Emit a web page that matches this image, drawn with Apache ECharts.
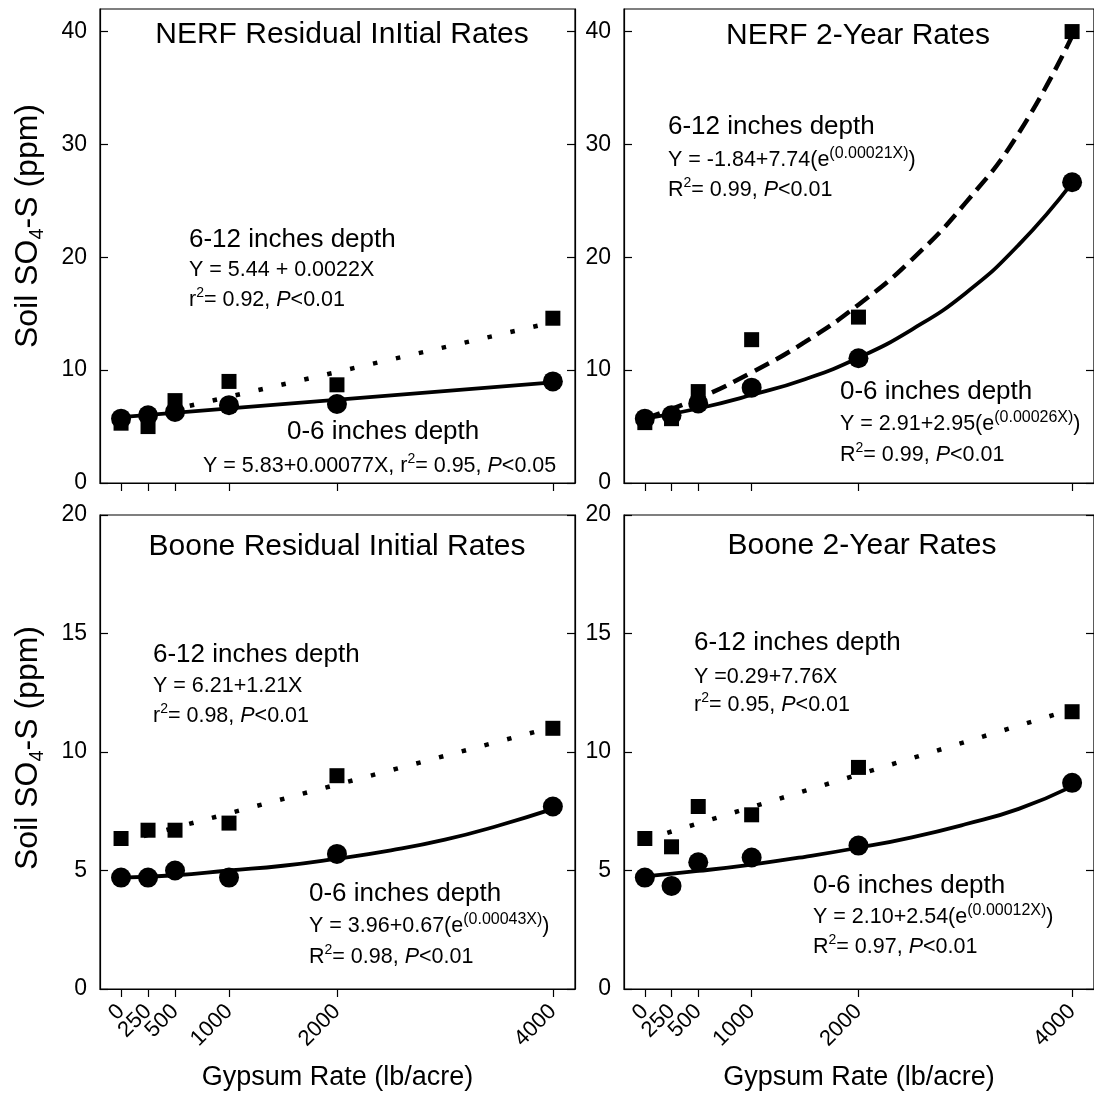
<!DOCTYPE html>
<html>
<head>
<meta charset="utf-8">
<title>Soil SO4-S by gypsum rate</title>
<script src="https://cdn.jsdelivr.net/npm/echarts@6/dist/echarts.min.js"></script>
<style>
  html, body { margin: 0; padding: 0; background: #fff; }
  #chart { width: 1094px; height: 1099px; }
</style>
</head>
<body>
<div id="chart"></div>
<script>
// gypsum rates (lb/acre), also the x tick labels
const rates = [0, 250, 500, 1000, 2000, 4000];
const lineX = [0, 4000];
const curveX = [0, 500, 1000, 1500, 2000, 2500, 3000, 3500, 4000];

// y tick labels
const ticksNerf = [0, 10, 20, 30, 40];
const ticksBoone = [0, 5, 10, 15, 20];

// NERF residual initial rates
const nerfInitShallow = [5.7, 6.0, 6.3, 6.9, 7.0, 9.0];   // 0-6 in
const nerfInitDeep = [5.3, 5.0, 7.3, 9.0, 8.7, 14.6];     // 6-12 in
const nerfInitShallowFit = [5.83, 8.91];
const nerfInitDeepFit = [5.44, 14.24];

// NERF 2-year rates
const nerf2Shallow = [5.7, 6.0, 7.05, 8.45, 11.05, 26.65];
const nerf2Deep = [5.35, 5.7, 8.1, 12.7, 14.7, 40.0];
const nerf2ShallowFit = [5.7, 6.6, 7.8, 9.2, 11.1, 13.6, 16.8, 21.1, 26.6];
const nerf2DeepFit = [5.7, 7.5, 9.8, 12.5, 15.8, 19.8, 24.8, 31.0, 39.6];

// Boone residual initial rates
const booneInitShallow = [4.7, 4.7, 5.0, 4.7, 5.7, 7.7];
const booneInitDeep = [6.35, 6.7, 6.7, 7.0, 9.0, 11.0];
const booneInitShallowFit = [4.7, 4.8, 5.0, 5.2, 5.5, 5.85, 6.3, 6.9, 7.6];
const booneInitDeepFit = [6.2, 11.05];

// Boone 2-year rates
const boone2Shallow = [4.7, 4.35, 5.35, 5.55, 6.05, 8.7];
const boone2Deep = [6.35, 6.0, 7.7, 7.35, 9.35, 11.7];
const boone2ShallowFit = [4.75, 4.98, 5.25, 5.58, 5.96, 6.4, 6.95, 7.6, 8.55];
const boone2DeepFit = [6.3, 11.8];

const font = '"Liberation Sans", Arial, sans-serif';
const dotted = [4.5, 19];
const dashed = [16, 8];

function pts(xs, ys) {
  return xs.map((x, i) => [x, ys[i]]);
}

// one entry per panel (grid)
const panels = [
  {
    left: 100, top: 9, yMax: 42, yStep: 10, yTicks: ticksNerf, bottom: false, yName: true, namePad: 40,
    shallow: nerfInitShallow, deep: nerfInitDeep,
    shallowFit: pts(lineX, nerfInitShallowFit), deepFit: pts(lineX, nerfInitDeepFit), deepDash: dotted
  },
  {
    left: 624, top: 9, yMax: 42, yStep: 10, yTicks: ticksNerf, bottom: false, yName: false, namePad: 0,
    shallow: nerf2Shallow, deep: nerf2Deep,
    shallowFit: pts(curveX, nerf2ShallowFit), deepFit: pts(curveX, nerf2DeepFit), deepDash: dashed
  },
  {
    left: 100, top: 515, yMax: 20, yStep: 5, yTicks: ticksBoone, bottom: true, yName: true, namePad: 8,
    shallow: booneInitShallow, deep: booneInitDeep,
    shallowFit: pts(curveX, booneInitShallowFit), deepFit: pts(lineX, booneInitDeepFit), deepDash: dotted
  },
  {
    left: 624, top: 515, yMax: 20, yStep: 5, yTicks: ticksBoone, bottom: true, yName: false, namePad: 0,
    shallow: boone2Shallow, deep: boone2Deep,
    shallowFit: pts(curveX, boone2ShallowFit), deepFit: pts(lineX, boone2DeepFit), deepDash: dotted
  }
];

const black = { color: '#000', width: 1.2 };
const plotH = 474;

const grid = panels.map(p => ({
  left: p.left, top: p.top, width: 475, height: plotH,
  show: true, borderColor: '#000', borderWidth: 1.2
}));

// echarts drops the label next to "0" when they touch, so 250 gets its own axis
const mainLabels = rates.filter(r => r !== 250);
const crowdedLabels = rates.filter(r => r === 250);

const xLabel = {
  rotate: 45, margin: 19, hideOverlap: false, showMinLabel: true, showMaxLabel: true,
  formatter: v => String(v),
  color: '#000', fontSize: 22, fontFamily: font
};

const xAxis = panels.map((p, i) => ({
  gridIndex: i,
  type: 'value',
  min: -195,
  max: 4205,
  axisLine: { show: true, onZero: false, lineStyle: black },
  axisTick: { show: true, inside: false, length: 8, customValues: rates, lineStyle: black },
  axisLabel: { ...xLabel, show: p.bottom, customValues: mainLabels },
  splitLine: { show: false },
  name: p.bottom ? 'Gypsum Rate (lb/acre)' : '',
  nameLocation: 'middle',
  nameGap: 75,
  nameTextStyle: { color: '#000', fontSize: 27, fontFamily: font }
}));

panels.forEach((p, i) => {
  if (!p.bottom) return;
  // second x axis, moved down onto the bottom edge, only carries the "250" label
  xAxis.push({
    gridIndex: i,
    type: 'value',
    position: 'top',
    offset: -plotH,
    min: -195,
    max: 4205,
    axisLine: { show: false },
    axisTick: { show: false },
    axisLabel: { ...xLabel, inside: true, customValues: crowdedLabels },
    splitLine: { show: false }
  });
});

const yAxis = [];
panels.forEach((p, i) => {
  // left axis with labels
  yAxis.push({
    gridIndex: i,
    type: 'value',
    position: 'left',
    min: 0,
    max: p.yMax,
    interval: p.yStep,
    axisLine: { show: true, onZero: false, lineStyle: black },
    axisTick: { show: true, inside: true, length: 8, customValues: p.yTicks, lineStyle: black },
    axisLabel: { customValues: p.yTicks, margin: 13, color: '#000', fontSize: 23, fontFamily: font },
    splitLine: { show: false },
    name: p.yName ? 'Soil SO{sub|4}-S (ppm)' : '',
    nameLocation: 'middle',
    nameRotate: 90,
    nameGap: 53,
    nameTextStyle: {
      color: '#000', fontSize: 32, fontFamily: font, lineHeight: 38,
      padding: [0, 0, 0, p.namePad],
      rich: {
        sub: { color: '#000', fontSize: 20, fontFamily: font, lineHeight: 16, verticalAlign: 'bottom' }
      }
    }
  });
  // mirrored ticks on the right edge
  yAxis.push({
    gridIndex: i,
    type: 'value',
    position: 'right',
    min: 0,
    max: p.yMax,
    interval: p.yStep,
    axisLine: { show: true, onZero: false, lineStyle: black },
    axisTick: { show: true, inside: true, length: 8, customValues: p.yTicks, lineStyle: black },
    axisLabel: { show: false },
    splitLine: { show: false }
  });
});

const series = [];
panels.forEach((p, i) => {
  const axes = { xAxisIndex: i, yAxisIndex: i * 2 };
  series.push({
    ...axes, type: 'line', data: p.deepFit, symbol: 'none', smooth: p.deepFit.length > 2,
    lineStyle: { color: '#000', width: 4.5, type: p.deepDash, cap: 'butt' }, z: 2, silent: true
  });
  series.push({
    ...axes, type: 'line', data: p.shallowFit, symbol: 'none', smooth: p.shallowFit.length > 2,
    lineStyle: { color: '#000', width: 3.8 }, z: 2, silent: true
  });
  series.push({
    ...axes, type: 'scatter', data: pts(rates, p.shallow), symbol: 'circle', symbolSize: 20,
    itemStyle: { color: '#000', opacity: 1 }, z: 3
  });
  series.push({
    ...axes, type: 'scatter', data: pts(rates, p.deep), symbol: 'rect', symbolSize: 15,
    itemStyle: { color: '#000', opacity: 1 }, z: 3
  });
});

// annotation text (equations etc.)
const noteRich = {
  sup: { font: '14px ' + font, fill: '#000', lineHeight: 10, verticalAlign: 'top' },
  exp: { font: '16px ' + font, fill: '#000', lineHeight: 10, verticalAlign: 'top' },
  it: { font: 'italic 21.5px ' + font, fill: '#000', lineHeight: 28 }
};

function note(x, y, text, size) {
  return {
    type: 'text', x: x, y: y, silent: true,
    style: {
      text: text, font: size + 'px ' + font, fill: '#000', lineHeight: 28,
      align: 'left', verticalAlign: 'middle', rich: noteRich
    }
  };
}

function heading(x, y, text) {
  return {
    type: 'text', x: x, y: y, silent: true,
    style: { text: text, font: '30px ' + font, fill: '#000', align: 'center', verticalAlign: 'middle' }
  };
}

const graphic = [
  heading(342, 35, 'NERF Residual InItial Rates'),
  heading(858, 36, 'NERF 2-Year Rates'),
  heading(337, 547, 'Boone Residual Initial Rates'),
  heading(862, 546, 'Boone 2-Year Rates'),

  note(189, 240, '6-12 inches depth', 26),
  note(189, 270, 'Y = 5.44 + 0.0022X', 21.5),
  note(189, 300, 'r{sup|2}= 0.92, {it|P}<0.01', 21.5),
  note(287, 432, '0-6 inches depth', 26),
  note(203, 466, 'Y = 5.83+0.00077X, r{sup|2}= 0.95, {it|P}<0.05', 21.5),

  note(668, 127, '6-12 inches depth', 26),
  note(668, 160, 'Y = -1.84+7.74(e{exp|(0.00021X)})', 21.5),
  note(668, 190, 'R{sup|2}= 0.99, {it|P}<0.01', 21.5),
  note(840, 392, '0-6 inches depth', 26),
  note(840, 424, 'Y = 2.91+2.95(e{exp|(0.00026X)})', 21.5),
  note(840, 455, 'R{sup|2}= 0.99, {it|P}<0.01', 21.5),

  note(153, 655, '6-12 inches depth', 26),
  note(153, 686, 'Y = 6.21+1.21X', 21.5),
  note(153, 716, 'r{sup|2}= 0.98, {it|P}<0.01', 21.5),
  note(309, 894, '0-6 inches depth', 26),
  note(309, 926, 'Y = 3.96+0.67(e{exp|(0.00043X)})', 21.5),
  note(309, 957, 'R{sup|2}= 0.98, {it|P}<0.01', 21.5),

  note(694, 643, '6-12 inches depth', 26),
  note(694, 677, 'Y =0.29+7.76X', 21.5),
  note(694, 705, 'r{sup|2}= 0.95, {it|P}<0.01', 21.5),
  note(813, 886, '0-6 inches depth', 26),
  note(813, 917, 'Y = 2.10+2.54(e{exp|(0.00012X)})', 21.5),
  note(813, 947, 'R{sup|2}= 0.97, {it|P}<0.01', 21.5)
];

const chart = echarts.init(document.getElementById('chart'));
chart.setOption({
  animation: false,
  backgroundColor: '#fff',
  grid: grid,
  xAxis: xAxis,
  yAxis: yAxis,
  series: series,
  graphic: graphic
});
</script>
</body>
</html>
